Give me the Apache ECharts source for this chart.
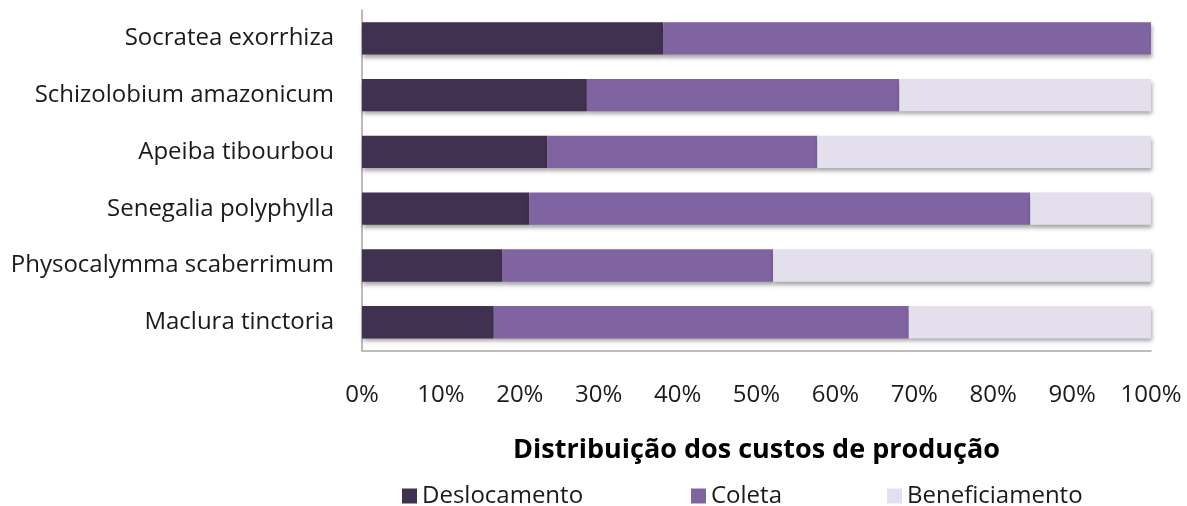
<!DOCTYPE html>
<html>
<head>
<meta charset="utf-8">
<script src="https://cdn.jsdelivr.net/npm/echarts@6/dist/echarts.min.js"></script>
<style>
html,body{margin:0;padding:0;background:#fff;}
#chart{width:1187px;height:506px;}
</style>
</head>
<body>
<div id="chart"></div>
<script>
const categories = ['Socratea exorrhiza','Schizolobium amazonicum','Apeiba tibourbou','Senegalia polyphylla','Physocalymma scaberrimum','Maclura tinctoria'];
const deslocamento = [38.2, 28.5, 23.5, 21.2, 17.8, 16.7];
const coleta = [61.8, 39.6, 34.2, 63.5, 34.3, 52.6];
const beneficiamento = [0, 31.9, 42.3, 15.3, 47.9, 30.7];
const xTicks = [0,10,20,30,40,50,60,70,80,90,100];
const seriesNames = ['Deslocamento','Coleta','Beneficiamento'];
const axisTitle = 'Distribuição dos custos de produção';

const FONT = '"Open Sans", sans-serif';
const colors = ['#403151','#8064a2','#e4dfec'];
const chart = echarts.init(document.getElementById('chart'), null, {renderer:'canvas'});
const shadow = {shadowColor:'rgba(0,0,0,0.35)', shadowBlur:4, shadowOffsetX:1, shadowOffsetY:3};
const mk = (name, data, i) => ({
  name, type:'bar', stack:'total', data, barCategoryGap:'43%',
  itemStyle: Object.assign({color: colors[i]}, shadow),
  emphasis:{disabled:true}
});
const legendCommon = {top:479, itemWidth:15, itemHeight:15, itemGap:10, icon:'rect',
  textStyle:{fontFamily:FONT, fontSize:24, color:'#1a1a1a'}};
chart.setOption({
  animation:false,
  grid:{left:362, right:36, top:10, height:340.6, containLabel:false},
  xAxis:{type:'value', min:xTicks[0], max:xTicks[xTicks.length-1], interval:xTicks[1]-xTicks[0],
    axisLine:{show:true, lineStyle:{color:'#a6a6a6', width:1.5}},
    axisTick:{show:false}, splitLine:{show:false},
    axisLabel:{formatter:'{value}%', fontFamily:FONT, fontSize:24, color:'#1a1a1a', margin:33},
    name: axisTitle, nameLocation:'middle', nameGap:86,
    nameTextStyle:{fontFamily:FONT, fontSize:27, fontWeight:'bold', color:'#000'}
  },
  yAxis:{type:'category', data:categories, inverse:true,
    axisLine:{show:true, lineStyle:{color:'#a6a6a6', width:1.5}},
    axisTick:{show:false},
    axisLabel:{fontFamily:FONT, fontSize:24, color:'#1a1a1a', margin:28}
  },
  legend:[
    Object.assign({left:397, data:[seriesNames[0]]}, legendCommon),
    Object.assign({left:686, data:[seriesNames[1]]}, legendCommon),
    Object.assign({left:882, data:[seriesNames[2]]}, legendCommon)
  ],
  series:[mk(seriesNames[0], deslocamento, 0), mk(seriesNames[1], coleta, 1), mk(seriesNames[2], beneficiamento, 2)]
});
</script>
</body>
</html>
